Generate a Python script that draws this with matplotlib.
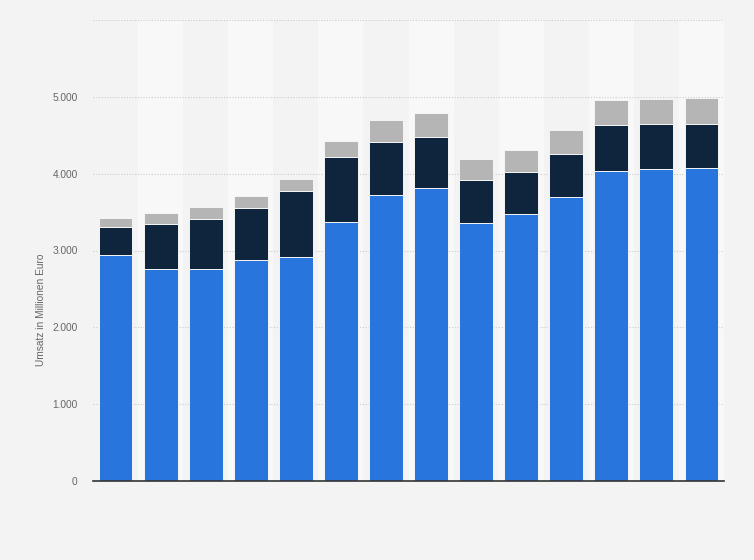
import numpy as np
import matplotlib
matplotlib.use('Agg')
import matplotlib.pyplot as plt
from matplotlib.ticker import FuncFormatter

plt.rcParams['font.family'] = ['Liberation Sans', 'DejaVu Sans']

# Stacked segments in Mio. Euro (14 periods, no x labels)
segment_blue = [2940, 2756, 2756, 2874, 2917, 3368, 3720, 3811, 3355, 3472, 3698, 4036, 4063, 4072]
segment_dark = [363, 586, 651, 677, 855, 851, 690, 668, 560, 551, 560, 595, 585, 576]
segment_gray = [117, 144, 157, 156, 160, 204, 291, 308, 273, 283, 312, 330, 326, 339]
y_ticks = [0, 1000, 2000, 3000, 4000, 5000, 6000]
y_label = 'Umsatz in Millionen Euro'

colors = ['#2876dd', '#0f253d', '#b5b5b5']

fig = plt.figure(figsize=(7.54, 5.6), dpi=100, facecolor='#f3f3f3')
ax = fig.add_axes([93 / 754, 79 / 560, 631 / 754, 461 / 560])
ax.set_facecolor('#f3f3f3')

n = len(segment_blue)
x = np.arange(n)

# alternating column bands
for i in range(1, n, 2):
    ax.axvspan(i - 0.5, i + 0.5, color='#f8f8f8', zorder=0, lw=0)

blue = np.array(segment_blue)
dark = np.array(segment_dark)
gray = np.array(segment_gray)

w = 0.75
ax.bar(x, blue, width=w, color=colors[0], edgecolor='#f5f5f5', linewidth=0.7, zorder=3)
ax.bar(x, dark, width=w, bottom=blue, color=colors[1], edgecolor='#f5f5f5', linewidth=0.7, zorder=3)
ax.bar(x, gray, width=w, bottom=blue + dark, color=colors[2], edgecolor='#f5f5f5', linewidth=0.7, zorder=3)

ax.set_xlim(-0.5, n - 0.5)
ax.set_ylim(0, 6000)
ax.set_yticks(y_ticks)


def fmt(v, pos):
    if v >= 6000:
        return ''
    return f'{int(v):,}'.replace(',', '.')


ax.yaxis.set_major_formatter(FuncFormatter(fmt))
ax.grid(axis='y', color='#cccccc', linestyle=(0, (1, 1.5)), linewidth=0.8, zorder=1)
ax.set_xticks([])
ax.tick_params(axis='y', length=0, pad=11, labelsize=7.3, labelcolor='#666666')

for s in ['top', 'right', 'left']:
    ax.spines[s].set_visible(False)
ax.spines['bottom'].set_color('#333333')
ax.spines['bottom'].set_linewidth(1.2)
ax.spines['bottom'].set_zorder(4)

fig.text(41 / 754, 250 / 560, y_label, rotation=90, ha='center', va='center',
         fontsize=7.3, color='#666666')

fig.savefig('out.png', dpi=100, facecolor=fig.get_facecolor())
